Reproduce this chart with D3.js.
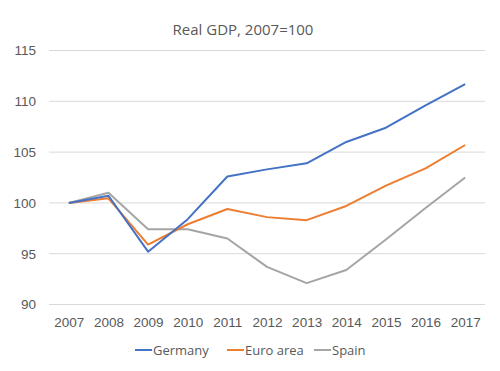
<!DOCTYPE html>
<html lang="en">
<head>
    <meta charset="UTF-8">
    <title>Real GDP, 2007=100</title>
    <script src="https://d3js.org/d3.v7.min.js"></script>
    <style>
        body { margin: 0; background: white; font-family: "Open Sans", Arial, sans-serif; }
        .tick text { fill: #595959; font-size: 13.5px; }
    </style>
</head>
<body>
    <div id="chart"></div>
    <script>
        const years = ["2007", "2008", "2009", "2010", "2011", "2012", "2013", "2014", "2015", "2016", "2017"];
        const germany = [100, 100.7, 95.2, 98.4, 102.6, 103.3, 103.9, 106.0, 107.4, 109.6, 111.7];
        const euroArea = [100, 100.45, 95.9, 97.9, 99.4, 98.6, 98.3, 99.7, 101.7, 103.4, 105.7];
        const spain = [100, 101.0, 97.4, 97.4, 96.5, 93.7, 92.1, 93.4, 96.4, 99.5, 102.5];
        const yTicks = [90, 95, 100, 105, 110, 115];

        const series = [
            { name: "Germany", values: germany, color: "#4472C4" },
            { name: "Euro area", values: euroArea, color: "#ED7D31" },
            { name: "Spain", values: spain, color: "#A5A5A5" }
        ];

        const width = 500, height = 371;
        const margin = { top: 50.5, right: 15, bottom: 66.5, left: 49 };

        const svg = d3.select("#chart").append("svg")
            .attr("width", width)
            .attr("height", height);

        const x = d3.scalePoint()
            .domain(years)
            .range([margin.left, width - margin.right])
            .padding(0.5);

        const y = d3.scaleLinear()
            .domain([90, 115])
            .range([height - margin.bottom, margin.top]);

        // gridlines
        svg.append("g")
            .selectAll("line")
            .data(yTicks)
            .join("line")
            .attr("x1", margin.left)
            .attr("x2", width - margin.right)
            .attr("y1", d => y(d))
            .attr("y2", d => y(d))
            .attr("stroke", "#D9D9D9")
            .attr("stroke-width", 1);

        // y axis labels
        const yAxis = svg.append("g")
            .attr("transform", "translate(" + (margin.left - 13) + ",0)")
            .call(d3.axisLeft(y).tickValues(yTicks).tickSize(0).tickPadding(0));
        yAxis.select(".domain").remove();

        // x axis labels
        const xAxis = svg.append("g")
            .attr("transform", "translate(0," + (y(90) + 13) + ")")
            .call(d3.axisBottom(x).tickSize(0).tickPadding(0));
        xAxis.select(".domain").remove();
        xAxis.selectAll("text").attr("dy", "0.71em");

        const line = d3.line()
            .x((d, i) => x(years[i]))
            .y(d => y(d));

        // draw spain first so the others sit on top
        svg.append("g")
            .selectAll("path")
            .data(series.slice().reverse())
            .join("path")
            .attr("d", d => line(d.values))
            .attr("fill", "none")
            .attr("stroke", d => d.color)
            .attr("stroke-width", 2)
            .attr("stroke-linejoin", "round");

        // title
        svg.append("text")
            .attr("x", 243)
            .attr("y", 35)
            .attr("text-anchor", "middle")
            .attr("font-size", "15px")
            .attr("fill", "#595959")
            .text("Real GDP, 2007=100");

        // legend
        const legendX = [135, 227, 314];
        const legend = svg.append("g")
            .selectAll("g")
            .data(series)
            .join("g")
            .attr("transform", (d, i) => "translate(" + legendX[i] + ",350)");
        legend.append("line")
            .attr("x1", 0).attr("x2", 17)
            .attr("stroke", d => d.color)
            .attr("stroke-width", 2);
        legend.append("text")
            .attr("x", 18)
            .attr("dy", "0.35em")
            .attr("font-size", "13px")
            .attr("fill", "#595959")
            .text(d => d.name);
    </script>
</body>
</html>
